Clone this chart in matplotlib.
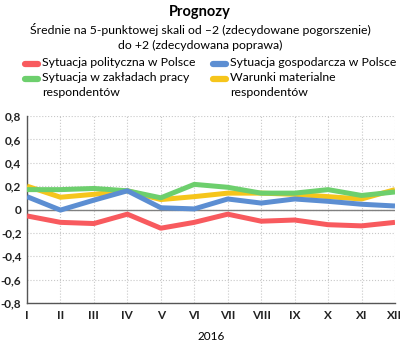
import matplotlib
matplotlib.use('Agg')
import matplotlib.pyplot as plt
from matplotlib.lines import Line2D

plt.rcParams['font.family'] = ['Lato', 'DejaVu Sans']

# Month labels and series values
months = ['I', 'II', 'III', 'IV', 'V', 'VI', 'VII', 'VIII', 'IX', 'X', 'XI', 'XII']
polityczna = [-0.055, -0.11, -0.12, -0.04, -0.16, -0.11, -0.04, -0.10, -0.09, -0.13, -0.14, -0.11]
gospodarcza = [0.11, -0.005, 0.08, 0.16, 0.015, 0.005, 0.09, 0.055, 0.09, 0.07, 0.045, 0.03]
zaklady = [0.17, 0.17, 0.18, 0.16, 0.10, 0.215, 0.19, 0.14, 0.14, 0.17, 0.12, 0.15]
warunki = [0.20, 0.105, 0.13, 0.16, 0.085, 0.11, 0.14, 0.14, 0.13, 0.11, 0.09, 0.17]

labels = ['Sytuacja polityczna w Polsce', 'Sytuacja gospodarcza w Polsce',
          'Sytuacja w zakładach pracy\nrespondentów', 'Warunki materialne\nrespondentów']
colors = ['#F85A5E', '#5C8ED2', '#6DCF6D', '#F6C51B']

fig = plt.figure(figsize=(4, 3.45), dpi=100)
ax = fig.add_axes([0.0675, 0.1217, 0.92, 0.5421])

x = list(range(len(months)))
ax.plot(x, warunki, color=colors[3], lw=3.6, solid_capstyle='butt', zorder=3)
ax.plot(x, zaklady, color=colors[2], lw=3.6, solid_capstyle='butt', zorder=4)
ax.plot(x, gospodarcza, color=colors[1], lw=3.6, solid_capstyle='butt', zorder=5)
ax.plot(x, polityczna, color=colors[0], lw=3.6, solid_capstyle='butt', zorder=5)

ax.axhline(0, color='#808080', lw=1, zorder=2)
ax.set_xlim(0, 11)
ax.set_ylim(-0.8, 0.8)
ax.set_xticks(x)
ax.set_xticklabels(months)
yt = [-0.8, -0.6, -0.4, -0.2, 0, 0.2, 0.4, 0.6, 0.8]
ax.set_yticks(yt)
ax.set_yticklabels([('%.1f' % v).replace('.', ',') if v != 0 else '0' for v in yt])
ax.grid(True, color='#C8C8C8', linestyle=':', lw=0.8)
ax.tick_params(length=0, labelsize=8.5)
ax.tick_params(axis='x', pad=5)
ax.tick_params(axis='y', pad=4)
for lab in ax.get_xticklabels() + ax.get_yticklabels():
    lab.set_fontweight('bold')
    lab.set_color('#222222')
for s in ['top', 'right']:
    ax.spines[s].set_visible(False)
for s in ['left', 'bottom']:
    ax.spines[s].set_color('#555555')
    ax.spines[s].set_linewidth(1)
ax.set_xlabel('2016', fontsize=8.5, labelpad=7)

# Titles
fig.text(0.5, 1 - 12 / 345, 'Prognozy', ha='center', va='center', fontsize=10.5, fontweight='bold')
fig.text(0.5, 1 - 30 / 345, 'Średnie na 5-punktowej skali od –2 (zdecydowane pogorszenie)',
         ha='center', va='center', fontsize=8.8)
fig.text(0.5, 1 - 45 / 345, 'do +2 (zdecydowana poprawa)', ha='center', va='center', fontsize=8.8)

# Legend drawn manually
leg_pos = [(23, 64), (211, 64), (23, 79), (211, 79)]
for (px, py), lab, c in zip(leg_pos, labels, colors):
    fy = 1 - py / 345
    fig.add_artist(Line2D([(px + 2) / 400, (px + 15) / 400], [fy, fy], color=c, lw=4.5,
                          solid_capstyle='round', transform=fig.transFigure))
    fig.text((px + 19) / 400, fy + 0.019, lab, ha='left', va='top', fontsize=8.8,
             linespacing=1.38)

fig.savefig('out.png', dpi=100)
